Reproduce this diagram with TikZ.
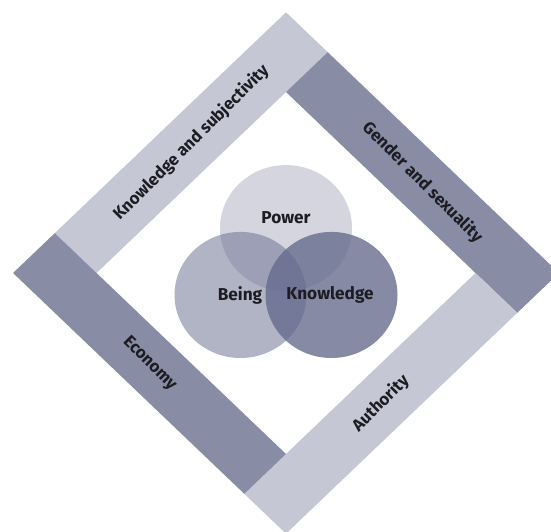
\documentclass[tikz,border=0pt]{standalone}
\usepackage{fontspec}
\setmainfont{Fira Sans}
\usepackage{tikz}
\definecolor{barlight}{RGB}{197,199,212}
\definecolor{bardark}{RGB}{136,140,164}
\definecolor{vennslate}{RGB}{100,105,140}
\definecolor{labelink}{RGB}{28,28,34}
\tikzset{
  bar light/.style={fill=barlight, draw=none},
  bar dark/.style={fill=bardark, draw=none},
  bar label/.style={
    text=labelink, font=\fontsize{16.8}{20}\selectfont\bfseries,
    inner sep=0pt, anchor=center
  },
  venn set/.style={fill=vennslate, fill opacity=#1, draw=none},
  venn label/.style={
    text=labelink, font=\fontsize{17.2}{20}\selectfont\bfseries,
    inner sep=0pt, anchor=center
  }
}
\newcommand{\barout}{193}
\newcommand{\barin}{134}

\begin{document}
\begin{tikzpicture}[x=1pt, y=1pt]
    \useasboundingbox (0,0) rectangle (551,531);
    \clip (0,0) rectangle (551,531);

    % pinwheel frame, drawn as a square and turned on its corner
    \begin{scope}[shift={(286,258)}, yscale=0.955, rotate=45]
      \fill[bar light] (-\barin,\barin) rectangle (\barout,\barout);
      \fill[bar dark] (\barin,-\barout) rectangle (\barout,\barin);
      \fill[bar light] (-\barout,-\barout) rectangle (\barin,-\barin);
      \fill[bar dark] (-\barout,-\barin) rectangle (-\barin,\barout);

      \node[bar label, rotate=45] (subjectivity) at (29.5,163.5) {Knowledge and subjectivity};
      \node[bar label, rotate=-45] (gender) at (163.5,-29.5) {Gender and sexuality};
      \node[bar label, rotate=45] (authority) at (-29.5,-163.5) {Authority};
      \node[bar label, rotate=-45] (economy) at (-163.5,29.5) {Economy};
    \end{scope}

    % three overlapping sets in the middle
    \begin{scope}[shift={(286,258)}, yscale=0.955]
      \fill[venn set=0.28] (0,47) circle[radius=66];
      \fill[venn set=0.5] (-45.5,-23) circle[radius=66];
      \fill[venn set=0.78] (45.5,-23) circle[radius=66];

      \node[venn label] (power) at (0,58) {Power};
      \node[venn label] (being) at (-46,-24) {Being};
      \node[venn label] (knowledge) at (44,-23) {Knowledge};
    \end{scope}
  \end{tikzpicture}
\end{document}
